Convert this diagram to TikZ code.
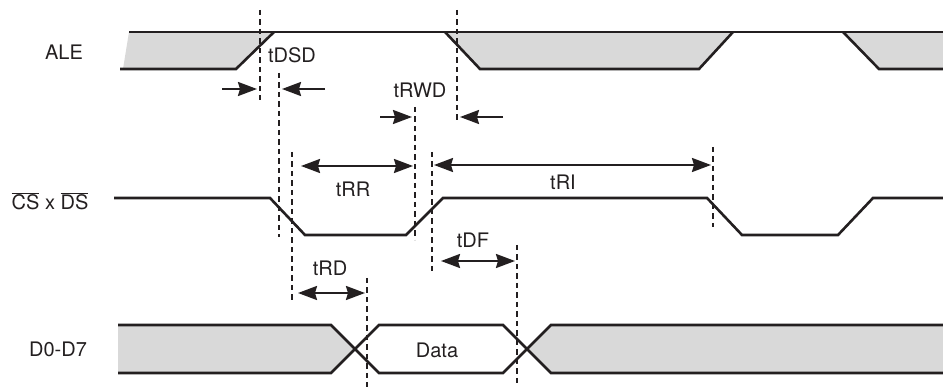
\documentclass[tikz,border=0pt]{standalone}
\usepackage{fontspec}
\setmainfont{TeX Gyre Heros}
\usepackage{xcolor}
\usetikzlibrary{arrows.meta}
\definecolor{ink}{HTML}{231F20}
\definecolor{busgray}{HTML}{D9D9D9}
\tikzset{
  sig/.style     = {draw=ink, line width=2.6pt, line join=miter},
  busfill/.style = {fill=busgray},
  guide/.style   = {draw=ink, line width=2.4pt, dash pattern=on 5.5pt off 4pt},
  dimone/.style  = {draw=ink, line width=2.2pt, -{Stealth[length=19pt,width=14pt,inset=2pt]}},
  dimtwo/.style  = {draw=ink, line width=2.2pt, {Stealth[length=19pt,width=14pt,inset=2pt]}-{Stealth[length=19pt,width=14pt,inset=2pt]}},
  lab/.style     = {font=\fontsize{20}{23}\selectfont, text=ink, inner sep=0pt, outer sep=0pt},
}

\begin{document}
\begin{tikzpicture}[x=1pt,y=-1pt]
\path[use as bounding box] (0,0) rectangle (943,387);

% ---- signal names -------------------------------------------------------
\node[lab] (ale)  at (64,52)   {ALE};
\node[lab] (csds) at (50,201)  {$\overline{\mbox{CS}}$ x $\overline{\mbox{DS}}$};
\node[lab] (dbus) at (58,349)  {D0-D7};

% ---- ALE ----------------------------------------------------------------
\fill[busfill] (129,32) -- (274,32) -- (236,69) -- (123,69) -- cycle;
\fill[busfill] (445,32) -- (733,32) -- (699,69) -- (480,69) -- cycle;
\fill[busfill] (843,32) -- (943,32) -- (943,69) -- (879,69) -- cycle;
\draw[sig] (129,32) -- (943,32);
\draw[sig] (120,69) -- (236,69) -- (274,32);
\draw[sig] (445,32) -- (480,69) -- (699,69) -- (733,32);
\draw[sig] (843,32) -- (879,69) -- (943,69);

% ---- CS x DS ------------------------------------------------------------
\draw[sig] (114,198) -- (270,198) -- (305,235) -- (406,235) -- (443,198)
  -- (707,198) -- (742,235) -- (838,235) -- (873,198) -- (943,198);

% ---- D0-D7 --------------------------------------------------------------
\fill[busfill] (118,325) -- (331,325) -- (355,349) -- (331,373) -- (118,373) -- cycle;
\fill[busfill] (527,349) -- (551,325) -- (943,325) -- (943,373) -- (551,373) -- cycle;
\draw[sig] (118,325) -- (331,325) -- (379,373) -- (503,373) -- (551,325) -- (943,325);
\draw[sig] (118,373) -- (331,373) -- (379,325) -- (503,325) -- (551,373) -- (943,373);
\node[lab] (data) at (437,350) {Data};

% ---- reference lines ----------------------------------------------------
\foreach \x/\ya/\yb in {260/10/100, 279/73/237, 292/152/303, 415/107/240,
                        457/10/122, 432/152/273, 713/147/227, 367/278/387, 517/245/387} {
  \draw[guide] (\x,\ya) -- (\x,\yb);
}

% ---- timings ------------------------------------------------------------
\coordinate (dsd-a) at (222,89);  \coordinate (dsd-b) at (257,89);
\coordinate (dsd-c) at (325,89);  \coordinate (dsd-d) at (282,89);
\draw[dimone] (dsd-a) -- (dsd-b);
\draw[dimone] (dsd-c) -- (dsd-d);
\node[lab, anchor=west] (tdsd) at (268,55) {tDSD};

\coordinate (rwd-a) at (380,117); \coordinate (rwd-b) at (412,117);
\coordinate (rwd-c) at (503,117); \coordinate (rwd-d) at (460,117);
\draw[dimone] (rwd-a) -- (rwd-b);
\draw[dimone] (rwd-c) -- (rwd-d);
\node[lab] (trwd) at (420,90) {tRWD};

\coordinate (rr-a) at (301,166); \coordinate (rr-b) at (413,166);
\draw[dimtwo] (rr-a) -- (rr-b);
\node[lab] (trr) at (353,189) {tRR};

\coordinate (ri-a) at (434,165); \coordinate (ri-b) at (711,165);
\draw[dimtwo] (ri-a) -- (ri-b);
\node[lab] (tri) at (563,182) {tRI};

\coordinate (df-a) at (441,261); \coordinate (df-b) at (515,261);
\draw[dimtwo] (df-a) -- (df-b);
\node[lab] (tdf) at (473,240) {tDF};

\coordinate (rd-a) at (298,293); \coordinate (rd-b) at (365,293);
\draw[dimtwo] (rd-a) -- (rd-b);
\node[lab] (trd) at (330,268) {tRD};

\end{tikzpicture}
\end{document}
